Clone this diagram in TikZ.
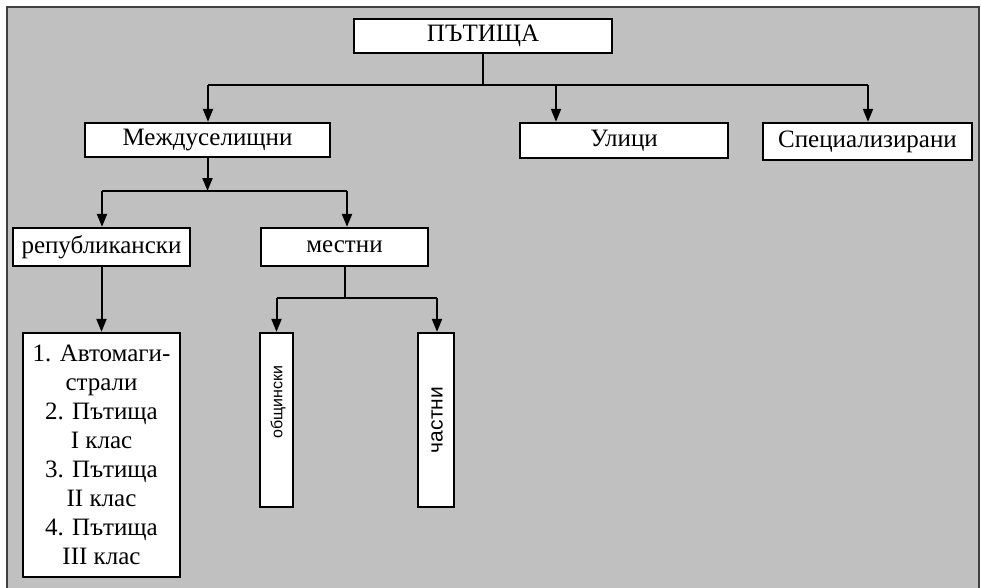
\documentclass[tikz,border=0pt]{standalone}
\usepackage{fontspec}
\setmainfont{Liberation Serif}
\setsansfont{Liberation Sans}
\usetikzlibrary{arrows.meta}
\definecolor{panel}{HTML}{C0C0C0}

\begin{document}
\begin{tikzpicture}[x=1pt,y=-1pt,
    box/.style={draw,line width=2.3pt,fill=white,inner sep=0pt,
      font=\fontsize{25}{29}\selectfont},
    vtext/.style={rotate=90,inner sep=0pt,font=\sffamily\fontsize{17}{20}\selectfont},
    link/.style={line width=2pt},
    arr/.style={link,-{Triangle[length=13pt,width=10pt]}}]
      \useasboundingbox (0,0) rectangle (981,588);
      \fill[white] (0,0) rectangle (981,588);
      \fill[panel] (7,7) rectangle (979,588);
      \draw[line width=1.8pt,black!75] (7,588) -- (7,7) -- (979,7) -- (979,588);
      \node[box,minimum width=258,minimum height=34] (roads) at (483,36) {ПЪТИЩА};
      \node[box,minimum width=245,minimum height=34] (inter) at (207.5,140) {Междуселищни};
      \node[box,minimum width=208,minimum height=35] (streets) at (624,140.5) {Улици};
      \node[box,minimum width=209,minimum height=37] (special) at (867.5,141.5) {Специализирани};
      \node[box,minimum width=177,minimum height=38] (repub) at (101.5,247) {републикански};
      \node[box,minimum width=167,minimum height=38] (local) at (344.5,247) {местни};
      \node[box,minimum width=157,minimum height=244,align=center] (classes) at (101.5,455)
        {1. Автомаги-\\страли\\2. Пътища\\I клас\\3. Пътища\\II клас\\4. Пътища\\III клас};
      \node[box,minimum width=33,minimum height=174] (munic) at (276.5,420) {};
      \node[box,minimum width=36,minimum height=174] (privat) at (436,420) {};
      \node[vtext,font=\sffamily\fontsize{16}{20}\selectfont] (municT) at (278,402) {общински};
      \node[vtext,font=\sffamily\fontsize{21}{24}\selectfont] (privatT) at (437,420) {частни};
      \coordinate (busAl) at (208,85);
      \coordinate (busAm) at (556,85);
      \coordinate (busAr) at (868,85);
      \coordinate (busBl) at (102,191);
      \coordinate (busBr) at (347,191);
      \coordinate (busCl) at (276.5,298);
      \coordinate (busCr) at (437,298);
      \draw[link] (roads.south) -- (roads.south |- busAl);
      \draw[link] (busAl) -- (busAr);
      \draw[arr] (busAl) -- (busAl |- inter.north);
      \draw[arr] (busAm) -- (busAm |- streets.north);
      \draw[arr] (busAr) -- (busAr |- special.north);
      \draw[arr] (inter.south) -- (inter.south |- busBl);
      \draw[link] (busBl) -- (busBr);
      \draw[arr] (busBl) -- (busBl |- repub.north);
      \draw[arr] (busBr) -- (busBr |- local.north);
      \draw[arr] (repub.south) -- (classes.north);
      \draw[link] (local.south) -- (local.south |- busCl);
      \draw[link] (busCl) -- (busCr);
      \draw[arr] (busCl) -- (busCl |- munic.north);
      \draw[arr] (busCr) -- (busCr |- privat.north);
\end{tikzpicture}
\end{document}
